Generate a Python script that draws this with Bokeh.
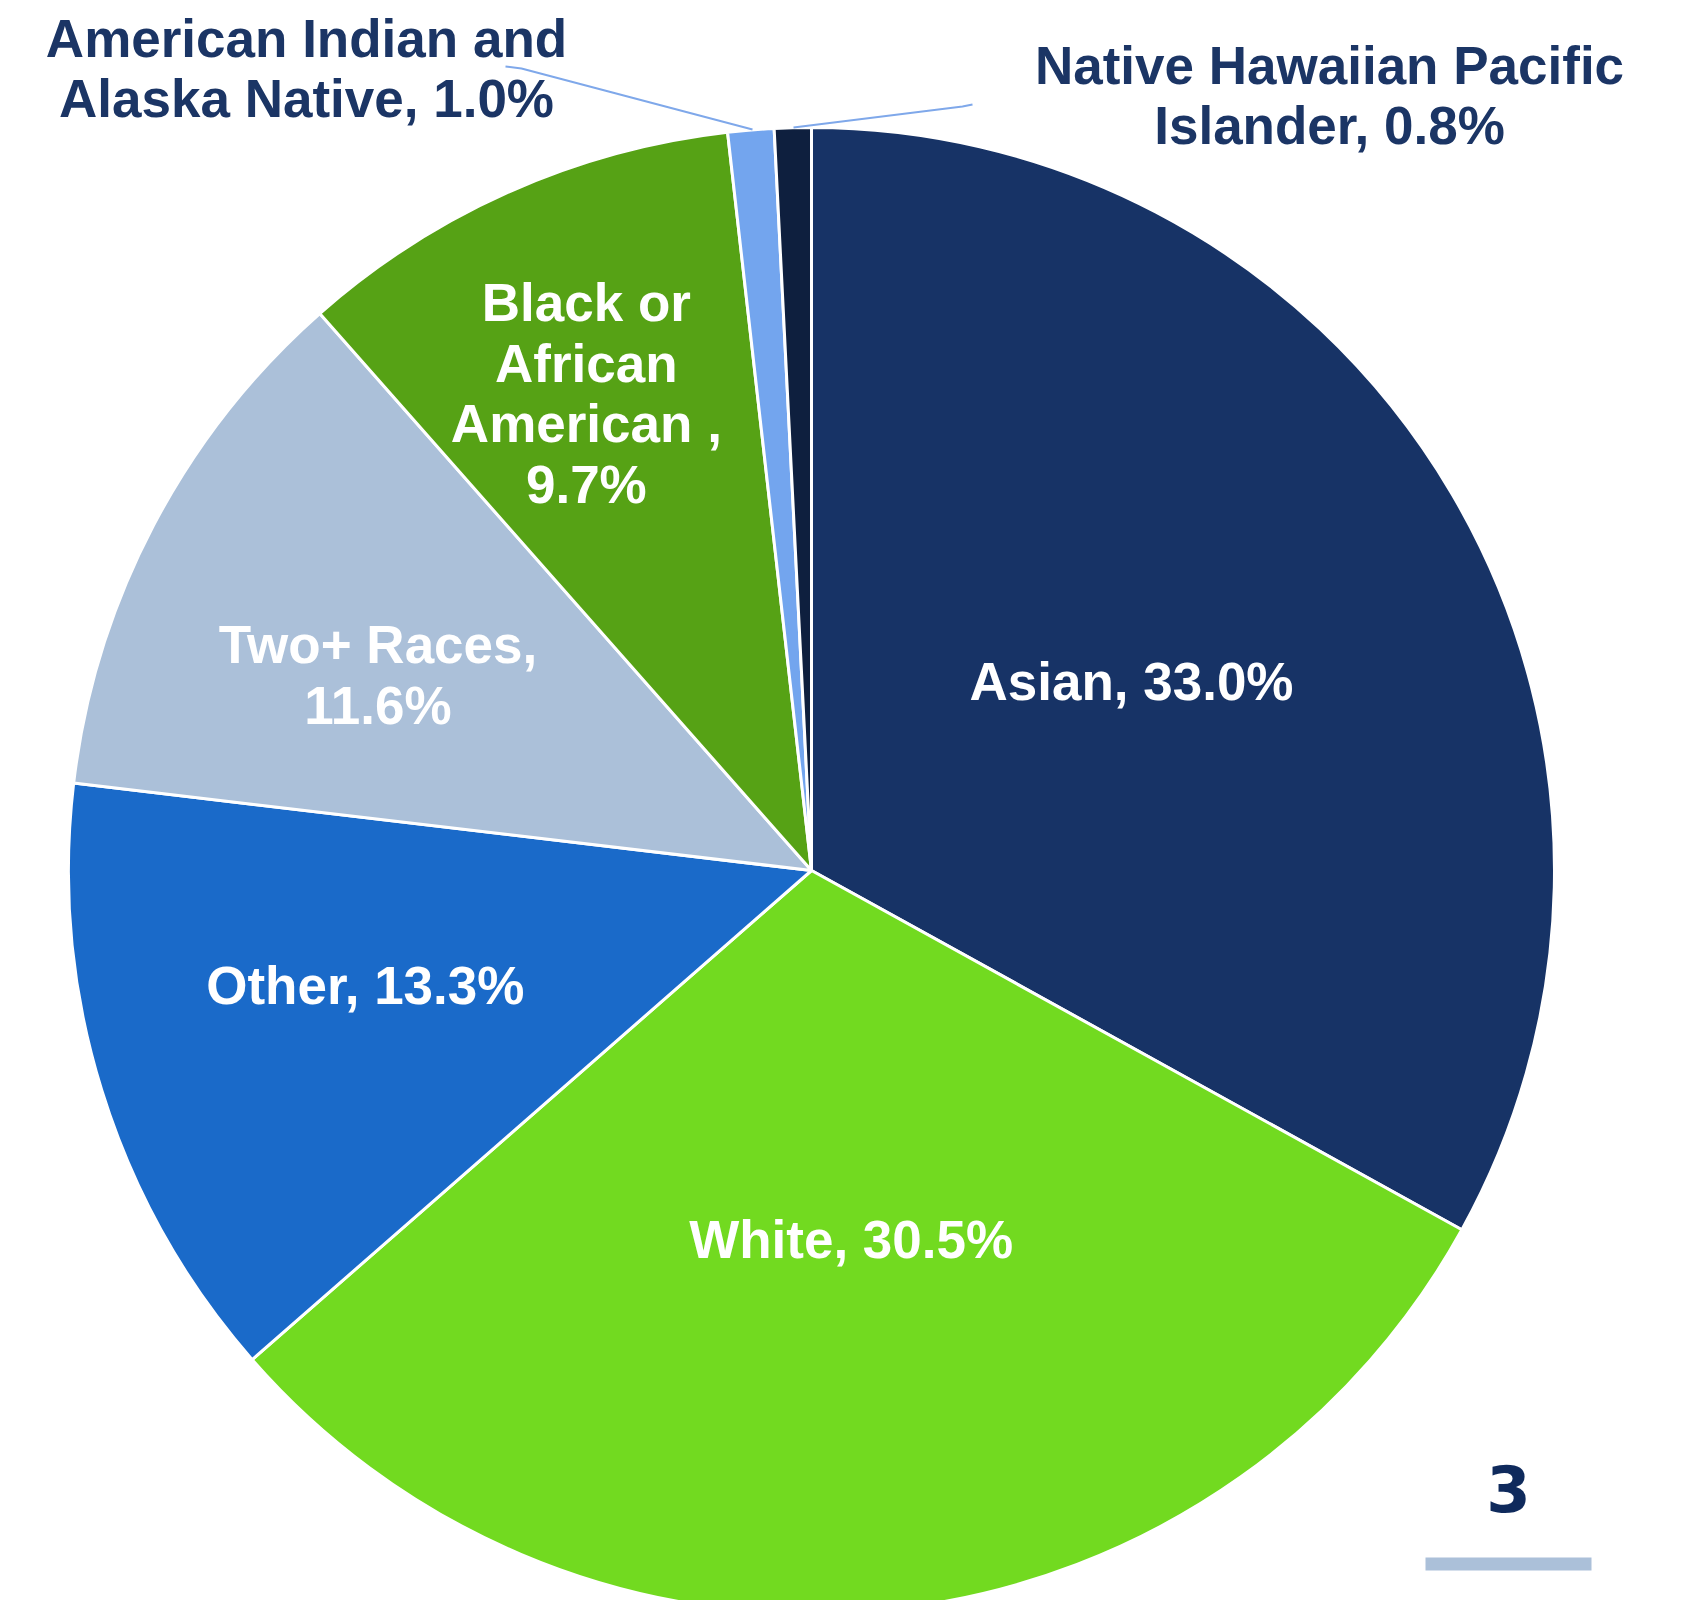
import math
from bokeh.plotting import figure
from bokeh.models import Range1d, ColumnDataSource
from bokeh.core.properties import value
from bokeh.embed import file_html
from bokeh.resources import INLINE

# ---- data ----
categories = ["Asian", "White", "Other", "Two+ Races", "Black or African American ",
              "American Indian and Alaska Native", "Native Hawaiian Pacific Islander"]
values = [33.0, 30.5, 13.3, 11.6, 9.7, 1.0, 0.8]
label_texts = ["Asian, 33.0%", "White, 30.5%", "Other, 13.3%", "Two+ Races,\n11.6%",
               "Black or\nAfrican\nAmerican ,\n9.7%",
               "American Indian and\nAlaska Native, 1.0%",
               "Native Hawaiian Pacific\nIslander, 0.8%"]

# ---- style ----
colors = ["#173366", "#72DA20", "#1A6AC9", "#ABC0D9", "#56A215", "#73A5EE", "#0E1F3E"]
inner_radius_frac = [0.50, 0.50, 0.62, 0.64, 0.71]
inner_angle_shift = [0.0, 0.0, -2.8, 3.4, 1.3]
navy = "#1B3565"

W, H = 1685, 1608
cx, cy, R = 811, H - 870, 743

p = figure(width=W - 16, height=H - 8, output_backend="svg", toolbar_location=None,
           x_range=Range1d(0, W - 16), y_range=Range1d(8, H), min_border=0)
p.axis.visible = False
p.grid.visible = False
p.outline_line_color = None
p.background_fill_color = "white"

total = sum(values)
starts, ends, mids = [], [], []
acc = 0.0
for v in values:
    a0 = math.pi / 2 - 2 * math.pi * acc / total
    acc += v
    a1 = math.pi / 2 - 2 * math.pi * acc / total
    starts.append(a0)
    ends.append(a1)
    mids.append((a0 + a1) / 2)

src = ColumnDataSource(dict(start=starts, end=ends, color=colors))
p.wedge(x=cx, y=cy, radius=R, start_angle="start", end_angle="end", direction="clock",
        fill_color="color", line_color="white", line_width=3, source=src)

# inner labels
lx, ly, lt = [], [], []
for i in range(5):
    ang = mids[i] + math.radians(inner_angle_shift[i])
    lx.append(cx + R * inner_radius_frac[i] * math.cos(ang))
    ly.append(cy + R * inner_radius_frac[i] * math.sin(ang))
    lt.append(label_texts[i])
p.text(x=lx, y=ly, text=lt, text_align="center", text_baseline="middle",
       text_font=value("Liberation Sans"), text_font_style="bold",
       text_font_size="53px", text_color="white", text_line_height=1.03)

# leader lines for small slices
p.line(x=[505, 521, 752], y=[H - 66, H - 68, H - 129], line_color="#7FA8EA", line_width=2)
p.line(x=[972, 962, 793], y=[H - 104, H - 106, H - 127], line_color="#7FA8EA", line_width=2)

# outer labels
p.text(x=[306, 1329], y=[H - 68, H - 95], text=[label_texts[5], label_texts[6]],
       text_align="center", text_baseline="middle",
       text_font=value("Liberation Sans"), text_font_style="bold",
       text_font_size="53px", text_color=navy, text_line_height=1.03)

# page number and bar
p.text(x=[1508], y=[H - 1488], text=["3"], text_align="center", text_baseline="middle",
       text_font=value("DejaVu Sans"), text_font_style="bold",
       text_font_size="64px", text_color="#0F2A5C")
p.quad(left=[1425], right=[1591], bottom=[H - 1570], top=[H - 1557],
       fill_color="#ABC0D9", line_color=None)

open("out.html", "w").write(file_html(p, INLINE))
